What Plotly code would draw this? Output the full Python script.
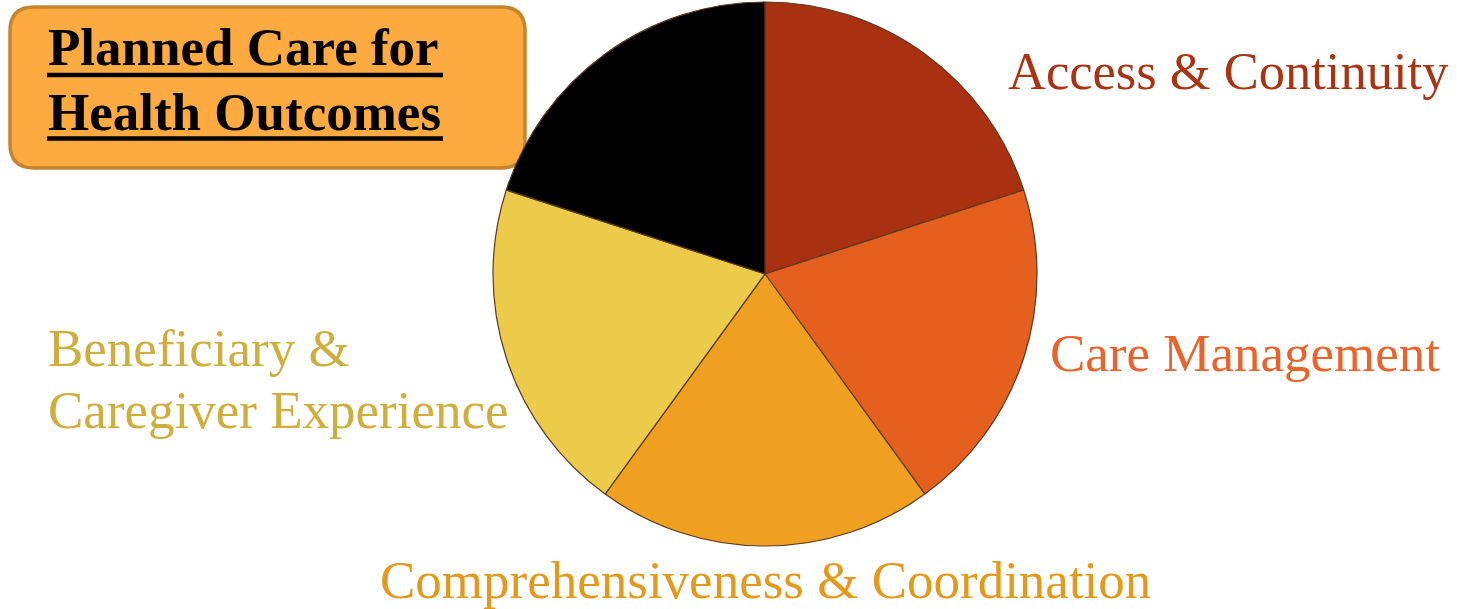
import plotly.graph_objects as go

# Data
labels = ["Access & Continuity", "Care Management", "Comprehensiveness & Coordination",
          "Beneficiary & Caregiver Experience", "Planned Care for Health Outcomes"]
values = [1, 1, 1, 1, 1]
slice_colors = ["#A93112", "#E55F1E", "#EFA020", "#ECCB4A", "#000000"]
label_colors = ["#A83414", "#E8642C", "#E39A1C", "#CFAE3E", "#000000"]
title_lines = ["Planned Care for", "Health Outcomes"]
benef_lines = ["Beneficiary &amp;", "Caregiver Experience"]

W, H = 1457, 609
fig = go.Figure()
fig.add_trace(go.Pie(
    labels=labels, values=values, sort=False, direction="clockwise", rotation=0,
    marker=dict(colors=slice_colors, line=dict(color="#5a3a20", width=1.2)),
    textinfo="none", hoverinfo="label", showlegend=False,
    domain=dict(x=[(765 - 272) / W, (765 + 272) / W], y=[1 - 546 / H, 1 - 2 / H]),
))

font = "Liberation Serif, Times New Roman, serif"


def px(x):
    return x / W


def py(y):
    return 1 - y / H


# rounded box for title
x0, x1, y0, y1, r = 10, 525, 7, 168, 24
path = (f"M {px(x0 + r)} {py(y0)} L {px(x1 - r)} {py(y0)} Q {px(x1)} {py(y0)} {px(x1)} {py(y0 + r)} "
        f"L {px(x1)} {py(y1 - r)} Q {px(x1)} {py(y1)} {px(x1 - r)} {py(y1)} "
        f"L {px(x0 + r)} {py(y1)} Q {px(x0)} {py(y1)} {px(x0)} {py(y1 - r)} "
        f"L {px(x0)} {py(y0 + r)} Q {px(x0)} {py(y0)} {px(x0 + r)} {py(y0)} Z")
fig.add_shape(type="path", path=path, xref="paper", yref="paper",
              fillcolor="#FDAA40", line=dict(color="#C5852F", width=3.5), layer="below")
# underlines of the title
for uy in (75, 138.5):
    fig.add_shape(type="line", xref="paper", yref="paper", x0=px(47), x1=px(443),
                  y0=py(uy), y1=py(uy), line=dict(color="#000000", width=4.5))

annots = [
    dict(text=f"<b>{title_lines[0]}</b>", x=px(46), y=py(47.5), xanchor="left",
         font=dict(size=53, color="#000000")),
    dict(text=f"<b>{title_lines[1]}</b>", x=px(46), y=py(112), xanchor="left",
         font=dict(size=53, color="#000000")),
    dict(text=labels[0], x=px(1006), y=py(71), xanchor="left",
         font=dict(size=52.5, color=label_colors[0])),
    dict(text=labels[1], x=px(1048), y=py(352.5), xanchor="left",
         font=dict(size=53, color=label_colors[1])),
    dict(text=benef_lines[0], x=px(46), y=py(347.5), xanchor="left",
         font=dict(size=53, color=label_colors[3])),
    dict(text=benef_lines[1], x=px(46), y=py(410), xanchor="left",
         font=dict(size=53, color=label_colors[3])),
    dict(text=labels[2], x=px(765), y=py(580), xanchor="center",
         font=dict(size=53, color=label_colors[2])),
]
for a in annots:
    a["font"]["family"] = font
    fig.add_annotation(xref="paper", yref="paper", showarrow=False, yanchor="middle",
                       align="left", **a)

fig.update_layout(width=W, height=H, margin=dict(l=0, r=0, t=0, b=0),
                  paper_bgcolor="white", plot_bgcolor="white")
fig.write_html("out.html", config={"displayModeBar": False},
               post_script="document.body.style.margin='0';document.body.style.overflow='hidden';")
